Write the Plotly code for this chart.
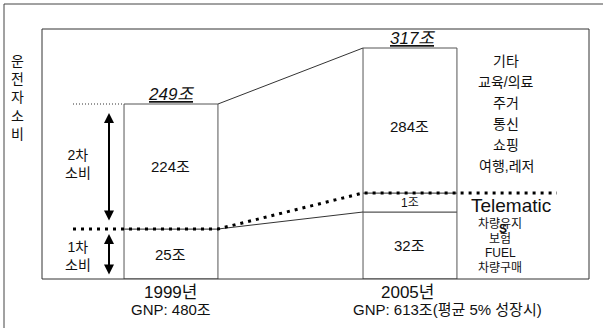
import numpy as np
import plotly.graph_objects as go

# ---------------- data ----------------
years = ["1999년", "2005년"]
gnp_labels = ["GNP: 480조", "GNP: 613조(평균 5% 성장시)"]
primary = [25, 32]        # 1차 소비 (조)
telematics = [0, 1]       # Telematics (조)
secondary = [224, 284]    # 2차 소비 (조)
totals = [249, 317]
second_items = ["기타", "교육/의료", "주거", "통신", "쇼핑", "여행,레저"]
first_items = ["차량유지", "보험", "FUEL", "차량구매"]

# the original is a schematic diagram: non-linear vertical scale
SCALE_VALUES = [0, 25, 32, 33, 249, 317]
SCALE_DISPLAY = [0, 50, 67, 86, 175, 231]


def sy(v):
    return float(np.interp(v, SCALE_VALUES, SCALE_DISPLAY))


# ---------------- geometry helpers ----------------
W, H = 603, 328
PL, PR, PT, PB = 42, 589, 29, 279
XR = [-0.5397, 1.749]
BW = 0.393


def xd(px):
    return XR[0] + (px - PL) / (PR - PL) * (XR[1] - XR[0])


def xp(px):
    return (px - PL) / (PR - PL)


def yp(py):
    return (PB - py) / (PB - PT)


FONT = "Liberation Sans, Arial, Noto Sans CJK KR, sans-serif"
TXT = "#111"
LINE = "#555"

xs = [0, 1]
fig = go.Figure()

# stacked bars
fig.add_trace(go.Bar(x=xs, base=[0, 0], y=[sy(p) for p in primary], width=BW,
                     marker=dict(color="white", line=dict(color=LINE, width=1)),
                     hoverinfo="skip", showlegend=False))
fig.add_trace(go.Bar(x=[1], base=[sy(primary[1])],
                     y=[sy(primary[1] + telematics[1]) - sy(primary[1])], width=BW,
                     marker=dict(color="white", line=dict(color=LINE, width=1)),
                     hoverinfo="skip", showlegend=False))
base2 = [sy(p + t) for p, t in zip(primary, telematics)]
fig.add_trace(go.Bar(x=xs, base=base2,
                     y=[sy(tot) - b for tot, b in zip(totals, base2)], width=BW,
                     marker=dict(color="white", line=dict(color=LINE, width=1)),
                     hoverinfo="skip", showlegend=False))

# connecting lines
fig.add_trace(go.Scatter(x=[BW / 2, 1 - BW / 2], y=[sy(totals[0]), sy(totals[1])],
                         mode="lines", line=dict(color="#333", width=1),
                         hoverinfo="skip", showlegend=False))
fig.add_trace(go.Scatter(x=[BW / 2, 1 - BW / 2], y=[sy(primary[0]), sy(primary[1])],
                         mode="lines", line=dict(color="#333", width=1),
                         hoverinfo="skip", showlegend=False))
# thin dotted leader at 249
fig.add_trace(go.Scatter(x=[xd(73), -BW / 2], y=[sy(totals[0])] * 2,
                         mode="lines", line=dict(color="#333", width=1, dash="1px,2px"),
                         hoverinfo="skip", showlegend=False))
# thick dotted boundary line 1차/2차
lvl1 = sy(primary[0] + telematics[0])
lvl2 = sy(primary[1] + telematics[1])
fig.add_trace(go.Scatter(x=[xd(73), BW / 2, 1 - BW / 2, xd(557)],
                         y=[lvl1, lvl1, lvl2, lvl2],
                         mode="lines", line=dict(color="black", width=3, dash="3px,5px"),
                         hoverinfo="skip", showlegend=False))

ann = []


def add_text(text, x, y, size, xref="x", yref="y", **kw):
    d = dict(text=text, x=x, y=y, xref=xref, yref=yref, showarrow=False,
             xanchor="center", yanchor="middle",
             font=dict(family=FONT, size=size, color=TXT))
    d.update(kw)
    ann.append(d)


# totals
for i, tot in enumerate(totals):
    add_text(f"<i><u>{tot}조</u></i>", xs[i], sy(tot), 17, yanchor="bottom", yshift=-2,
             xshift=[0, 3][i])

# segment labels
for i in range(2):
    add_text(f"{primary[i]}조", xs[i], sy(primary[i]) / 2, 15)
    add_text(f"{secondary[i]}조", xs[i], (base2[i] + sy(totals[i])) / 2 - [0, 6][i], 15)
    if telematics[i]:
        add_text(f"{telematics[i]}조", xs[i],
                 (sy(primary[i]) + sy(primary[i] + telematics[i])) / 2, 12)

# year / GNP labels
for i in range(2):
    add_text(years[i], xs[i], yp(292), 17, yref="paper", xshift=[0, -2][i])
    add_text(gnp_labels[i], xs[i], yp(309), 15, yref="paper", xshift=[0, 38][i])

# vertical axis title
add_text("운<br>전<br>자<br>소<br>비", xp(17), yp(97), 14, xref="paper", yref="paper")
add_text("2차<br>소비", xd(78), yp(164), 14, yref="paper")
add_text("1차<br>소비", xd(78), yp(256), 14, yref="paper")

# right-side lists
for k, item in enumerate(second_items):
    add_text(item, xd(506), yp(61 + 21 * k), 14, yref="paper")
add_text("Telematic", xd(511), yp(205), 19, yref="paper")
for k, item in enumerate(first_items):
    add_text(item, xd(500), yp(224 + 14.5 * k), 12, yref="paper")
add_text("<b>S</b>", xd(503), yp(229), 12, yref="paper")

# arrows
ARX = xd(109)
for (y_head, y_tail) in [(sy(totals[0]) - 9, sy(primary[0]) + 7),
                         (sy(primary[0]) - 5, 3)]:
    ann.append(dict(x=ARX, y=y_head, ax=ARX, ay=y_tail, xref="x", yref="y",
                    axref="x", ayref="y", text="", showarrow=True,
                    arrowhead=2, startarrowhead=2, arrowside="end+start",
                    arrowsize=1, arrowwidth=2, arrowcolor="black"))

shapes = [
    # inner frame
    dict(type="rect", xref="paper", yref="paper", x0=0, x1=1, y0=0, y1=1,
         line=dict(color="#333", width=1)),
    # outer frame (left and top visible)
    dict(type="line", xref="paper", yref="paper", x0=xp(4), x1=xp(603), y0=yp(4), y1=yp(4),
         line=dict(color="#444", width=1)),
    dict(type="line", xref="paper", yref="paper", x0=xp(4), x1=xp(4), y0=yp(4), y1=yp(330),
         line=dict(color="#444", width=1)),
]

fig.update_layout(
    width=W, height=H,
    margin=dict(l=PL, r=W - PR, t=PT, b=H - PB),
    paper_bgcolor="white", plot_bgcolor="white",
    barmode="overlay",
    xaxis=dict(range=XR, visible=False, fixedrange=True),
    yaxis=dict(range=[0, PB - PT], visible=False, fixedrange=True),
    annotations=ann, shapes=shapes,
    showlegend=False,
)

fig.write_html("out.html")
